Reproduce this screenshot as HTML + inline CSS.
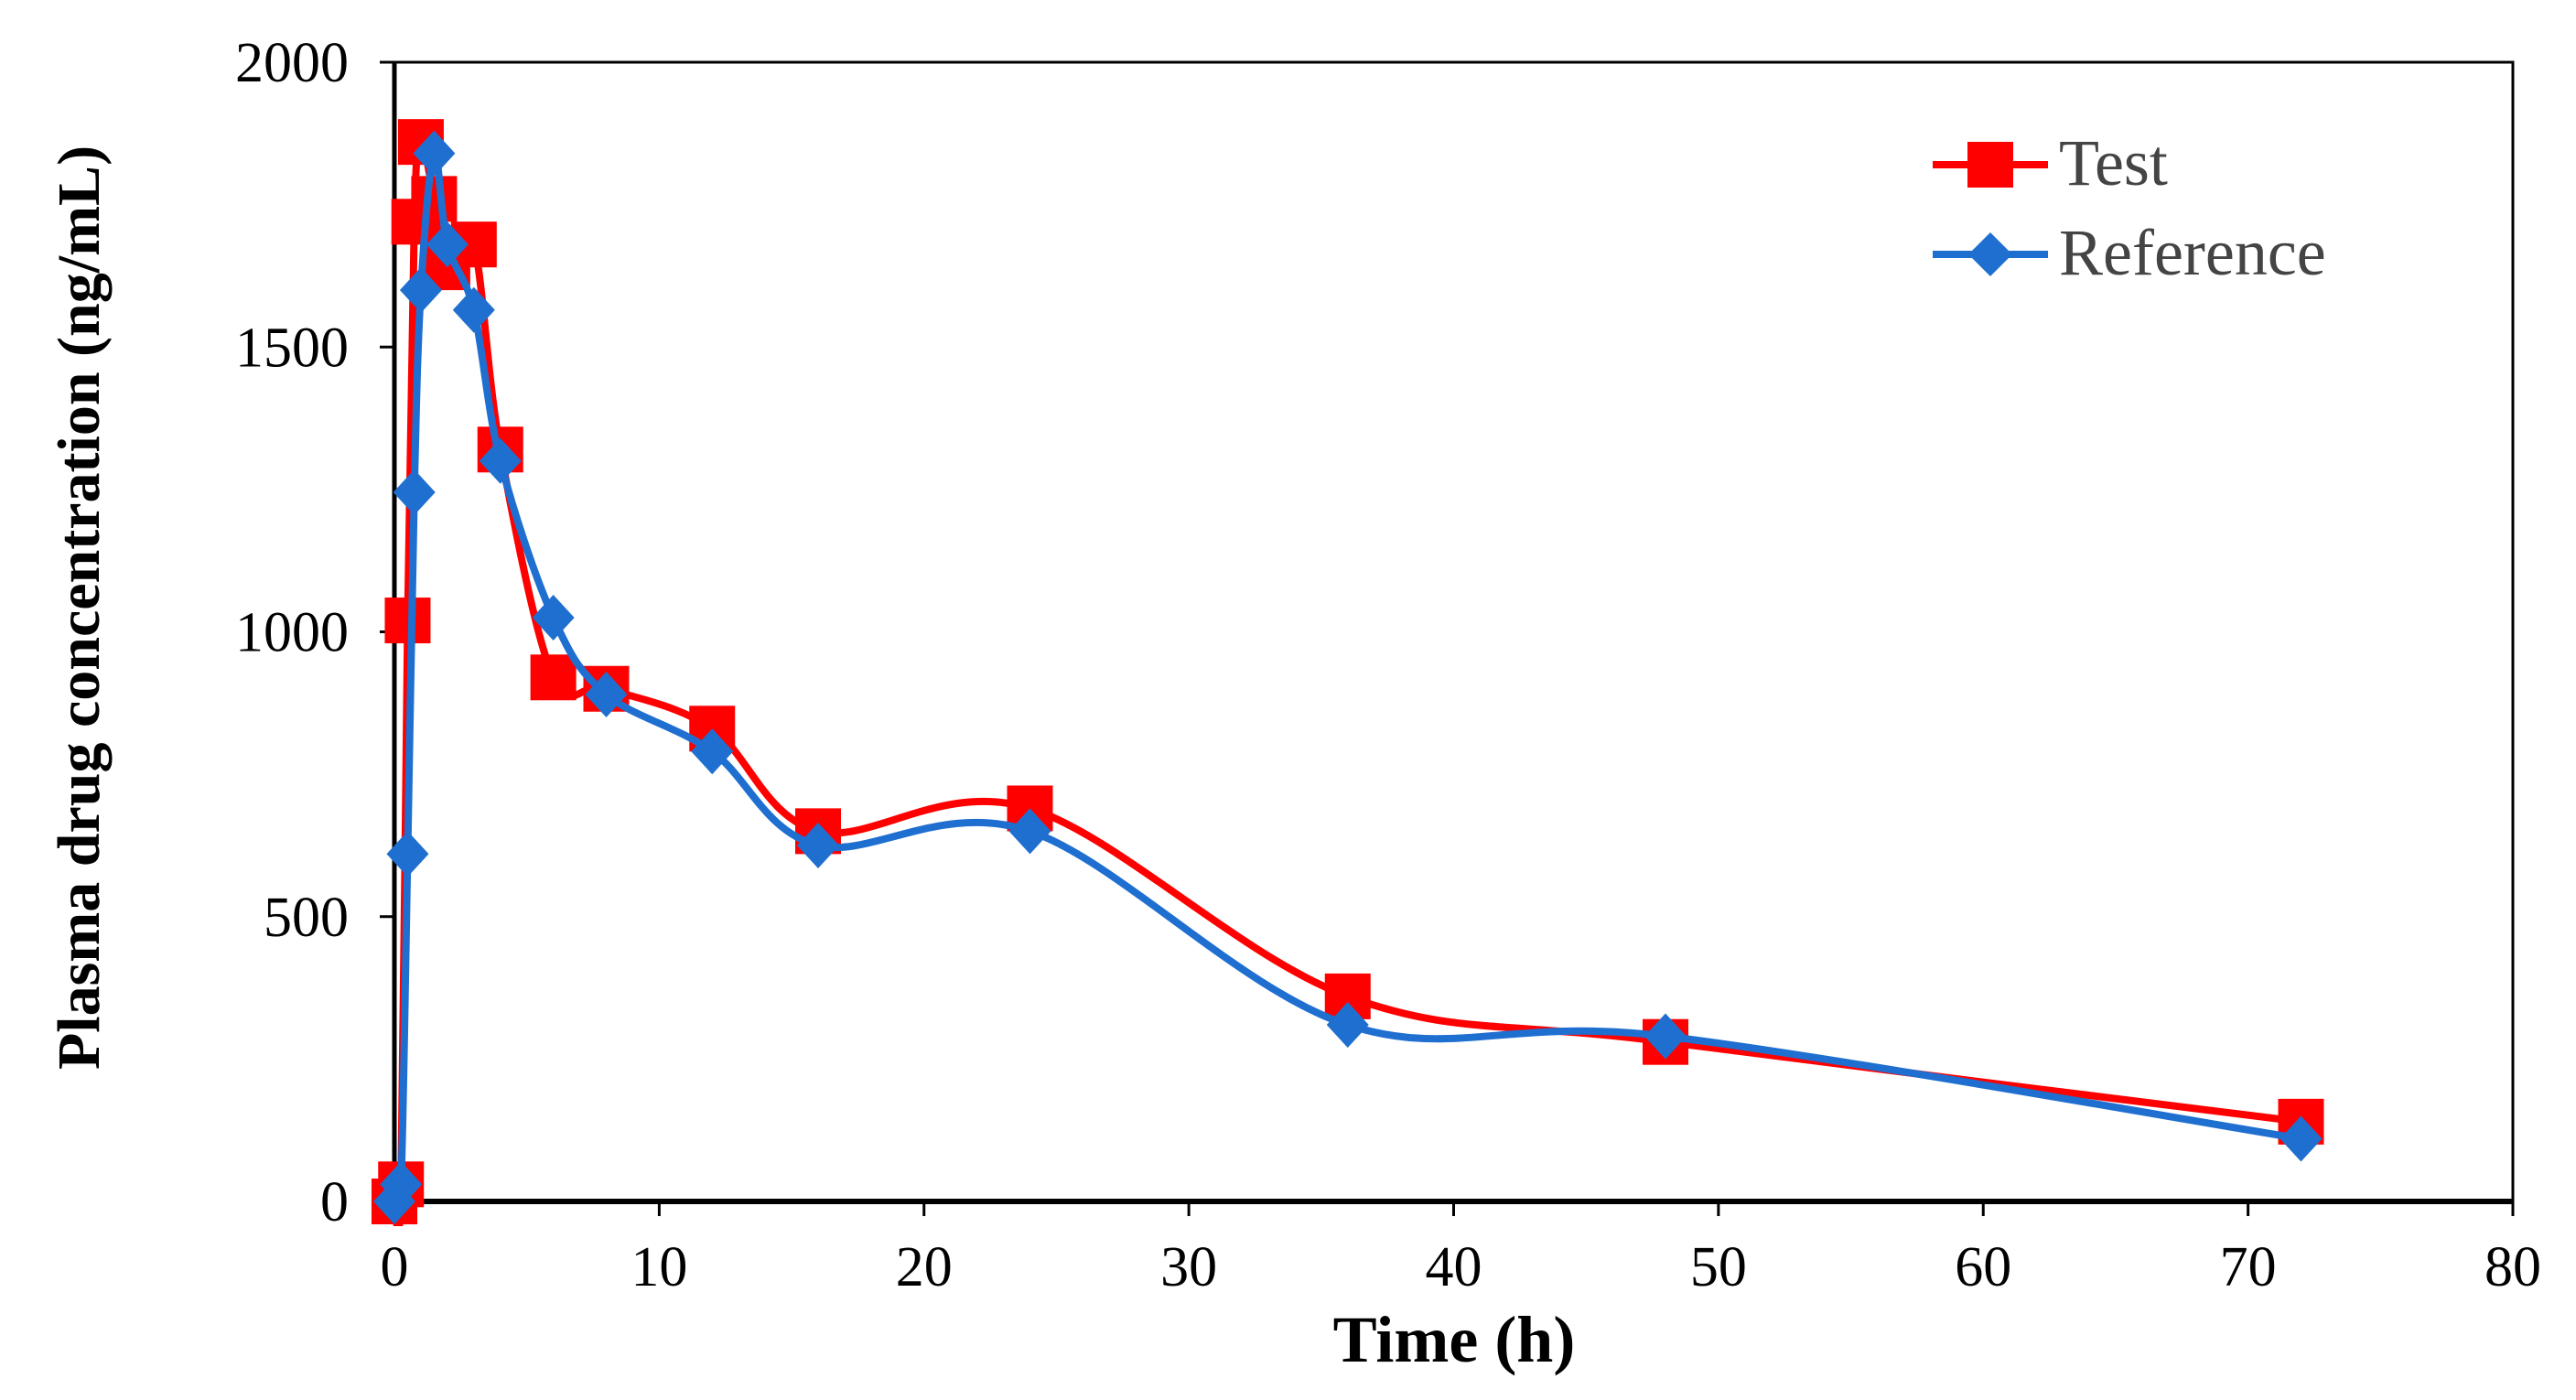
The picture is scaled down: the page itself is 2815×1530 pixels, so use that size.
<!DOCTYPE html>
<html><head><meta charset="utf-8"><style>
html,body{margin:0;padding:0;background:#fff;}
svg{display:block;font-family:"Liberation Serif",serif;}
</style></head><body>
<svg id="chart" width="2815" height="1530" viewBox="0 0 2815 1530">
<defs><clipPath id="pc"><rect x="380" y="20" width="2420" height="1320"/></clipPath></defs>
<g id="axes"></g>
<g id="series" clip-path="url(#pc)"></g>
<text x="108" y="664" transform="rotate(-90 108 664)" text-anchor="middle" font-size="66" font-weight="bold">Plasma drug concentration (ng/mL)</text>
<text x="1589" y="1488" text-anchor="middle" font-size="72" font-weight="bold">Time (h)</text>
<g>
<g>
<line x1="2112" y1="180" x2="2238" y2="180" stroke="#ff0000" stroke-width="8"/>
<rect x="2150" y="155" width="50" height="50" fill="#ff0000"/>
<text x="2250" y="202" font-size="72" fill="#444">Test</text></g>
<g>
<line x1="2112" y1="278" x2="2238" y2="278" stroke="#1f6fd0" stroke-width="8"/>
<polygon points="2175,254 2199,278 2175,302 2151,278" fill="#1f6fd0"/>
<text x="2250" y="300" font-size="72" fill="#444">Reference</text></g>
</g>
</svg>
<script>
const times = [0,0.25,0.5,0.75,1,1.5,2,3,4,6,8,12,16,24,36,48,72];
const testValues = [0,30,1020,1720,1860,1760,1640,1680,1320,920,900,830,650,690,360,280,140];
const refValues = [0,30,610,1245,1600,1840,1680,1565,1300,1025,890,790,625,650,310,290,110];
const xTicks = [0,10,20,30,40,50,60,70,80];
const yTicks = [0,500,1000,1500,2000];
const NS="http://www.w3.org/2000/svg";
const X0=431,X1=2746,Y0=1313,Y1=68;
const sx=v=>X0+(v/80)*(X1-X0);
const sy=v=>Y0-(v/2000)*(Y0-Y1);
function mk(tag,attrs,parent){const e=document.createElementNS(NS,tag);for(const k in attrs)e.setAttribute(k,attrs[k]);parent.appendChild(e);return e;}
const axes=document.getElementById('axes');
const frame=mk('rect',{x:X0,y:Y1,width:X1-X0,height:Y0-Y1,fill:'none',stroke:'#000','stroke-width':3},axes);


const xa=mk('line',{x1:X0,y1:Y0,x2:X1,y2:Y0,stroke:'#000','stroke-width':6},axes);


const ya=mk('line',{x1:X0,y1:Y0,x2:X0,y2:Y1,stroke:'#000','stroke-width':5},axes);


xTicks.forEach(t=>{
 mk('line',{x1:sx(t),y1:Y0,x2:sx(t),y2:Y0+16,stroke:'#000','stroke-width':3},axes);
 const tx=mk('text',{x:sx(t),y:Y0+92,'text-anchor':'middle','font-size':62},axes);
 tx.textContent=t;
 
 
});
yTicks.forEach(t=>{
 mk('line',{x1:X0-16,y1:sy(t),x2:X0,y2:sy(t),stroke:'#000','stroke-width':3},axes);
 const tx=mk('text',{x:X0-50,y:sy(t)+21,'text-anchor':'end','font-size':62},axes);
 tx.textContent=t;
 
 
});
function spline(xs,ys){
 const p=xs.map((x,i)=>[sx(x),sy(ys[i])]);
 let d='M'+p[0][0]+','+p[0][1];
 for(let i=0;i<p.length-1;i++){
  const a=p[Math.max(i-1,0)],b=p[i],c=p[i+1],e=p[Math.min(i+2,p.length-1)];
  const k=0.5/3;
  const c1=[b[0]+(c[0]-a[0])*k,b[1]+(c[1]-a[1])*k];
  const c2=[c[0]-(e[0]-b[0])*k,c[1]-(e[1]-b[1])*k];
  d+=` C${c1[0]},${c1[1]} ${c2[0]},${c2[1]} ${c[0]},${c[1]}`;
 }
 return d;
}
const series=document.getElementById('series');
const gT=mk('g',{},series);


const lT=mk('path',{d:spline(times,testValues),fill:'none',stroke:'#ff0000','stroke-width':8},gT);


times.forEach((t,i)=>{
 const r=mk('rect',{x:sx(t)-25,y:sy(testValues[i])-25,width:50,height:50,fill:'#ff0000'},gT);
 
 
});
const gR=mk('g',{},series);


const lR=mk('path',{d:spline(times,refValues),fill:'none',stroke:'#1f6fd0','stroke-width':8},gR);


times.forEach((t,i)=>{
 const x=sx(t),y=sy(refValues[i]);
 const r=mk('polygon',{points:`${x},${y-25} ${x+23},${y} ${x},${y+25} ${x-23},${y}`,fill:'#1f6fd0'},gR);
 
 
});
</script>
</body></html>
